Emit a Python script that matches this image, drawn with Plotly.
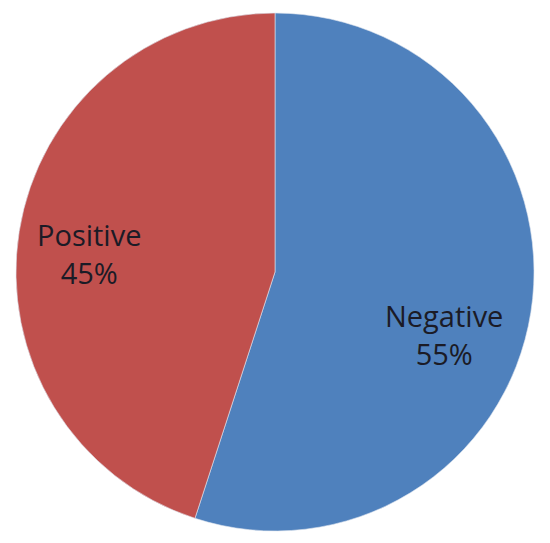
import plotly.graph_objects as go

labels = ["Negative", "Positive"]
values = [55, 45]
colors = ["#4F81BD", "#C0504D"]

W, H = 550, 543
OFF = 8  # default page body margin
R = 259
CX, CY = 275, 272
# label centres (screen px) for each slice
label_pos = {"Negative": (444, 334), "Positive": (89, 254)}

fig = go.Figure(go.Pie(
    labels=labels,
    values=values,
    sort=False,
    direction="clockwise",
    rotation=0,
    marker=dict(colors=colors, line=dict(color="#DDE4EE", width=0.6)),
    textinfo="none",
    domain=dict(x=[(CX - R - OFF) / W, (CX + R - OFF) / W],
                y=[(H - (CY + R - OFF)) / H, (H - (CY - R - OFF)) / H]),
    showlegend=False,
    hoverinfo="label+percent",
))

total = sum(values)
for lab, val in zip(labels, values):
    sx, sy = label_pos[lab]
    fig.add_annotation(
        x=(sx - OFF) / W, y=1 - (sy - OFF) / H,
        xref="paper", yref="paper",
        text=f"{lab}<br>{round(100 * val / total)}%",
        showarrow=False, xanchor="center", yanchor="middle",
        font=dict(family="Open Sans", size=29, color="#1b1b26"),
    )

fig.update_layout(
    width=W, height=H,
    margin=dict(l=0, r=0, t=0, b=0),
    paper_bgcolor="white",
    plot_bgcolor="white",
)
fig.write_html("out.html")
